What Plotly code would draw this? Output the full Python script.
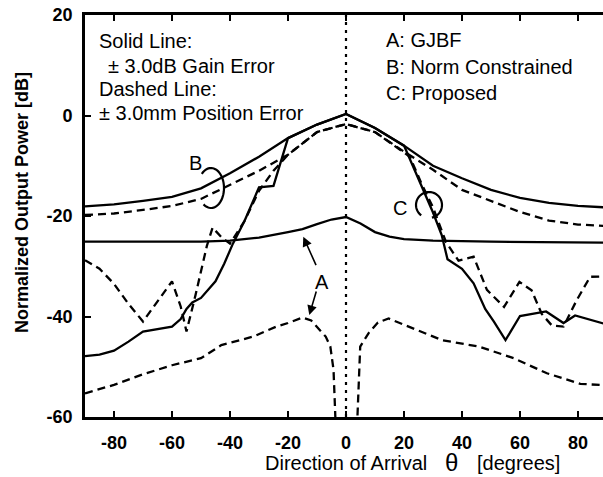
import numpy as np
import plotly.graph_objects as go

# ---------------- data ----------------
# B: Norm Constrained
b_solid_x = [-90, -80, -70, -60, -50, -40, -30, -20, -10, 0, 10, 20, 30, 40, 50, 60, 70, 80, 90]
b_solid_y = [-18.1, -17.7, -17.0, -16.2, -14.5, -11.5, -8.2, -4.5, -1.8, 0.3, -2.5, -6.0, -10.0, -12.5, -14.8, -16.4, -17.4, -18.0, -18.3]
b_dash_x = [-90, -80, -70, -60, -50, -40, -30, -20, -10, 0, 10, 20, 30, 40, 50, 60, 70, 80, 90]
b_dash_y = [-19.8, -19.5, -18.8, -18.0, -16.6, -13.8, -11.0, -7.8, -3.3, -1.7, -3.3, -7.2, -10.8, -14.8, -17.0, -19.2, -20.9, -21.7, -22.0]

# C: Proposed
c_solid_x = [-90, -85, -80, -75, -70, -65, -60, -57, -55, -53, -50, -45, -42, -39, -35, -30, -25, -20, -10, 0, 10, 20,
             25, 30, 33, 35, 40, 44, 48, 51, 55, 60, 69, 75, 79, 90]
c_solid_y = [-47.9, -47.6, -46.8, -45.0, -43.0, -42.5, -42.0, -40.5, -38.5, -37.2, -36.3, -33.0, -29.5, -25.5, -21.0,
             -14.3, -14.0, -4.5, -1.8, 0.3, -2.5, -6.0,
             -12.5, -19.3, -23.8, -28.6, -30.5, -33.4, -38.5, -41.0, -44.7, -39.9, -39.0, -41.3, -39.8, -41.6]
c_dash_x = [-90, -85, -80, -75, -70, -65, -60, -57, -55, -52, -48, -46, -43, -40, -35, -30, -25, -20, -10, 0, 10, 22,
            26, 30, 34.5, 38.8, 44, 48.6, 54.5, 59.8, 64, 67.5, 71, 75, 79.6, 84.2, 90]
c_dash_y = [-28.8, -30.5, -33.5, -37.5, -41.0, -37.0, -33.0, -38.0, -43.0, -36.0, -26.0, -22.3, -24.2, -25.5, -21.0,
            -15.0, -11.0, -7.8, -3.3, -1.7, -3.3, -8.2,
            -13.5, -18.3, -25.2, -28.9, -28.1, -34.7, -38.1, -33.1, -34.8, -39.5, -41.8, -42.0, -36.7, -32.1, -32.0]

# A: GJBF
a_solid_x = [-90, -70, -50, -40, -30, -20, -15, -10, -5, 0, 5, 10, 15, 20, 30, 50, 70, 90]
a_solid_y = [-25.1, -25.1, -25.1, -24.9, -24.3, -23.2, -22.6, -21.6, -20.7, -20.2, -21.5, -23.2, -24.1, -24.6, -24.9, -25.1, -25.2, -25.3]
a_dash_x = [-90, -80, -70, -60, -50, -43, -32, -24, -20, -15, -12, -10, -7, -5.4, -4.3, -3.7, -3.4,
            3.6, 4.0, 4.9, 7.8, 11, 14.7, 18, 22.8, 33.1, 46, 57.8, 69.3, 80.8, 90]
a_dash_y = [-55.3, -53.6, -51.5, -49.7, -48.3, -45.7, -44.0, -42.0, -41.3, -40.2, -40.8, -42.0, -44.0, -46.0, -50.6, -59.6, -65,
            -65, -58.0, -46.0, -43.3, -41.2, -40.4, -41.2, -42.3, -44.7, -46.0, -48.3, -51.3, -53.4, -53.7]

x_ticks = [-80, -60, -40, -20, 0, 20, 40, 60, 80]
x_ticktext = ["-80", "-60", "-40", "-20", "0", "20", "40", "60", "80"]
y_ticks = [-60, -40, -20, 0, 20]
y_ticktext = ["-60", "-40", "-20", "0", "20"]

# ---------------- figure ----------------
W, H = 603, 477
ML, MR, MT, MB = 85, 0, 15, 60
PW, PH = W - ML - MR, H - MT - MB
XR = [-90, -90 + PW / 2.9]
YR = [-60, 20]

def px2data(px, py):
    x = XR[0] + (px - ML) / PW * (XR[1] - XR[0])
    y = YR[1] - (py - MT) / PH * (YR[1] - YR[0])
    return x, y

def loop_path(cx, cy, rx, ry, a0, a1, n=40):
    pts = []
    for t in np.linspace(np.radians(a0), np.radians(a1), n):
        pts.append(px2data(cx + rx * np.cos(t), cy + ry * np.sin(t)))
    return "M " + " L ".join(f"{x:.3f},{y:.3f}" for x, y in pts)

FONT = "Liberation Sans, Arial, Helvetica, sans-serif"
LW = 2.3
DASH = "8px,5px"

fig = go.Figure()
def add(x, y, dash=None):
    fig.add_trace(go.Scatter(x=x, y=y, mode="lines",
                             line=dict(color="black", width=LW, dash=dash),
                             showlegend=False, hoverinfo="skip"))

add(b_solid_x, b_solid_y)
add(b_dash_x, b_dash_y, DASH)
add(c_solid_x, c_solid_y)
add(c_dash_x, c_dash_y, DASH)
add(a_solid_x, a_solid_y)
add(a_dash_x, a_dash_y, DASH)

shapes = [
    dict(type="line", xref="x", yref="y", x0=0, x1=0, y0=YR[0], y1=YR[1],
         line=dict(color="black", width=2.2, dash="3px,5px")),
    dict(type="path", xref="x", yref="y", path=loop_path(211, 188, 13, 20, 225, 485),
         line=dict(color="black", width=2.2)),
    dict(type="path", xref="x", yref="y", path=loop_path(429, 205, 13, 13, 127, 437),
         line=dict(color="black", width=2.2)),
]

def pap(px, py):
    return (px - ML) / PW, (H - MB - py) / PH

ann = []
def txt(s, px, py, size=20, bold=False, xanchor="left", angle=0):
    x, y = pap(px, py)
    ann.append(dict(text=s, x=x, y=y, xref="paper", yref="paper", xanchor=xanchor, yanchor="middle",
                    showarrow=False, textangle=angle, borderpad=0,
                    font=dict(family=FONT, size=size, color="black", weight="bold" if bold else "normal")))

txt("Solid Line:", 98, 41)
txt("± 3.0dB Gain Error", 107, 66)
txt("Dashed Line:", 98, 89)
txt("± 3.0mm Position Error", 98, 113)
txt("A: GJBF", 385, 40)
txt("B: Norm Constrained", 385, 67)
txt("C: Proposed", 385, 93)
# x-axis title (three parts, as spaced in the reference)
txt("Direction of Arrival", 428, 463, size=20, xanchor="right")
txt("θ", 451, 462, size=24, xanchor="center")
txt("[degrees]", 476, 463, size=20, xanchor="left")
txt("Normalized Output Power [dB]", 22, 203, size=18, bold=True, xanchor="center", angle=-90)

for s, (px, py) in [("B", (195, 163)), ("C", (400, 208)), ("A", (322, 282))]:
    x, y = px2data(px, py)
    ann.append(dict(text=s, x=x, y=y, xref="x", yref="y", showarrow=False,
                    font=dict(family=FONT, size=20, color="black")))

for head, tail in [((303.3, 236.7), (316.7, 266.7)), ((309.3, 315.0), (316.7, 290.0))]:
    hx, hy = px2data(*head)
    tx, ty = px2data(*tail)
    ann.append(dict(text="", x=hx, y=hy, ax=tx, ay=ty, xref="x", yref="y", axref="x", ayref="y",
                    showarrow=True, arrowhead=2, arrowsize=1.2, arrowwidth=1.6, arrowcolor="black"))

axis_common = dict(showgrid=False, zeroline=False, showline=True, linecolor="black", linewidth=2.6,
                   ticks="inside", ticklen=6, tickwidth=2, tickcolor="black",
                   tickfont=dict(family=FONT, size=18, color="black", weight="bold"))

fig.update_layout(
    width=W, height=H, margin=dict(l=ML, r=MR, t=MT, b=MB),
    paper_bgcolor="white", plot_bgcolor="white",
    xaxis=dict(range=XR, tickvals=x_ticks, ticktext=x_ticktext, mirror="ticks",
               ticklabelstandoff=8, **axis_common),
    yaxis=dict(range=YR, tickvals=y_ticks, ticktext=y_ticktext, mirror=False,
               ticklabelstandoff=6, **axis_common),
    shapes=shapes, annotations=ann,
)

fig.write_html("out.html")
